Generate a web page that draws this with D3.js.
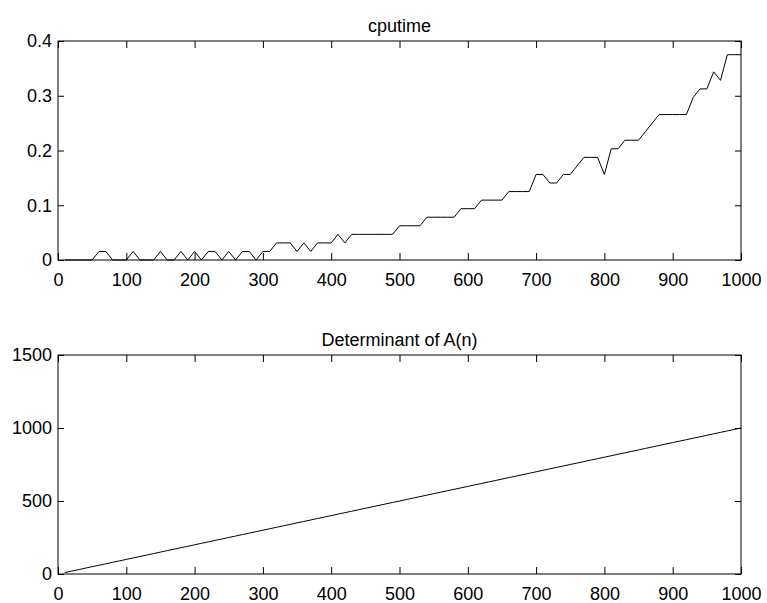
<!DOCTYPE html>
<html>
<head>
<meta charset="utf-8">
<script src="https://cdn.jsdelivr.net/npm/d3@7"></script>
<style>
  html, body { margin: 0; padding: 0; background: #fff; }
  svg { display: block; }
  text { font-family: "Liberation Sans", Arial, Helvetica, sans-serif; fill: #000; }
</style>
</head>
<body>
<div id="chart"></div>
<script>
// Matrix sizes n
const sizes = [10,20,30,40,50,60,70,80,90,100,110,120,130,140,150,160,170,180,190,200,
  210,220,230,240,250,260,270,280,290,300,310,320,330,340,350,360,370,380,390,400,
  410,420,430,440,450,460,470,480,490,500,510,520,530,540,550,560,570,580,590,600,
  610,620,630,640,650,660,670,680,690,700,710,720,730,740,750,760,770,780,790,800,
  810,820,830,840,850,860,870,880,890,900,910,920,930,940,950,960,970,980,990,1000];

// CPU time (s) for each n
const cputime = [0,0,0,0,0,0.015625,0.015625,0,0,0,
  0.015625,0,0,0,0.015625,0,0,0.015625,0,0.015625,
  0,0.015625,0.015625,0,0.015625,0,0.015625,0.015625,0,0.015625,
  0.015625,0.03125,0.03125,0.03125,0.015625,0.03125,0.015625,0.03125,0.03125,0.03125,
  0.046875,0.03125,0.046875,0.046875,0.046875,0.046875,0.046875,0.046875,0.046875,0.0625,
  0.0625,0.0625,0.0625,0.078125,0.078125,0.078125,0.078125,0.078125,0.09375,0.09375,
  0.09375,0.109375,0.109375,0.109375,0.109375,0.125,0.125,0.125,0.125,0.15625,
  0.15625,0.140625,0.140625,0.15625,0.15625,0.171875,0.1875,0.1875,0.1875,0.15625,
  0.203125,0.203125,0.21875,0.21875,0.21875,0.234375,0.25,0.265625,0.265625,0.265625,
  0.265625,0.265625,0.296875,0.3125,0.3125,0.34375,0.328125,0.375,0.375,0.375];

// Determinant of A(n) for each n
const determinant = [10,20,30,40,50,60,70,80,90,100,110,120,130,140,150,160,170,180,190,200,
  210,220,230,240,250,260,270,280,290,300,310,320,330,340,350,360,370,380,390,400,
  410,420,430,440,450,460,470,480,490,500,510,520,530,540,550,560,570,580,590,600,
  610,620,630,640,650,660,670,680,690,700,710,720,730,740,750,760,770,780,790,800,
  810,820,830,840,850,860,870,880,890,900,910,920,930,940,950,960,970,980,990,1000];

const xTicks = [0,100,200,300,400,500,600,700,800,900,1000];
const cpuTicks = [0,0.1,0.2,0.3,0.4];
const detTicks = [0,500,1000,1500];

const W = 767, H = 603;
const svg = d3.select("#chart").append("svg").attr("width", W).attr("height", H);

const left = 58, right = 741;
const fontSize = 18;

function panel(top, bottom, title, values, yDomain, yTicks, yFmt) {
  const x = d3.scaleLinear().domain([0, 1000]).range([left, right]);
  const y = d3.scaleLinear().domain(yDomain).range([bottom, top]);
  const g = svg.append("g");

  // axes box
  g.append("rect").attr("x", left).attr("y", top)
    .attr("width", right - left).attr("height", bottom - top)
    .attr("fill", "none").attr("stroke", "#000").attr("stroke-width", 1);

  const xb = d3.axisBottom(x).tickValues(xTicks).tickSize(-7).tickPadding(13)
    .tickFormat(d3.format("d"));
  const xt = d3.axisTop(x).tickValues(xTicks).tickSize(-7).tickFormat("");
  const yl = d3.axisLeft(y).tickValues(yTicks).tickSize(-6).tickPadding(6).tickFormat(yFmt);
  const yr = d3.axisRight(y).tickValues(yTicks).tickSize(-6).tickFormat("");

  [[xb, `translate(0,${bottom})`], [xt, `translate(0,${top})`],
   [yl, `translate(${left},0)`], [yr, `translate(${right},0)`]].forEach(([ax, tr]) => {
    const a = g.append("g").attr("transform", tr).call(ax);
    a.select(".domain").remove();
    a.selectAll("line").attr("stroke", "#000");
    a.selectAll("text").attr("font-size", fontSize)
      .attr("font-family", "'Liberation Sans', Arial, sans-serif").attr("fill", "#000");
  });

  g.append("text").attr("x", (left + right) / 2).attr("y", top - 9)
    .attr("text-anchor", "middle").attr("font-size", fontSize).text(title);

  const line = d3.line().x((d, i) => x(sizes[i])).y(d => y(d));
  g.append("path").datum(values).attr("d", line)
    .attr("fill", "none").attr("stroke", "#000").attr("stroke-width", 1);
}

const fmtCpu = d => d === 0 ? "0" : d3.format(".1f")(d);
panel(41, 260, "cputime", cputime, [0, 0.4], cpuTicks, fmtCpu);
panel(355, 574, "Determinant of A(n)", determinant, [0, 1500], detTicks, d3.format("d"));
</script>
</body>
</html>
